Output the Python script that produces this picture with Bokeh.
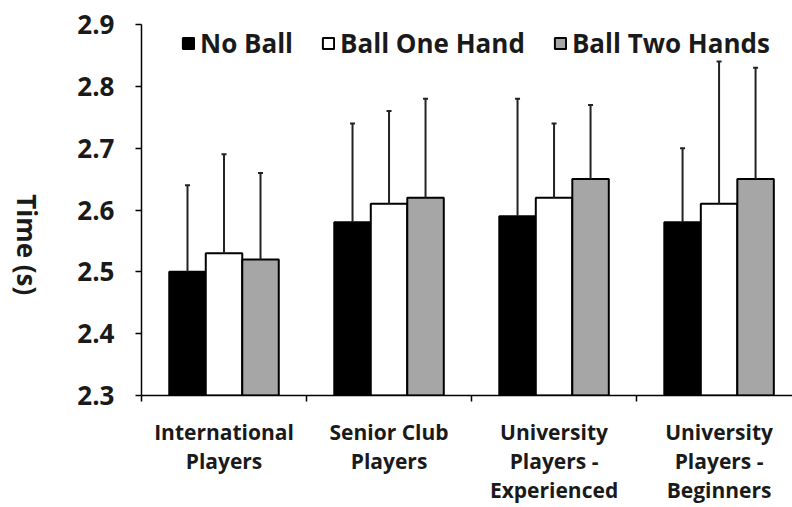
import math
from bokeh.plotting import figure
from bokeh.layouts import row
from bokeh.models import (ColumnDataSource, FixedTicker, Legend, LegendItem,
                          Whisker, TeeHead, Range1d)
from bokeh.core.properties import value
from bokeh.embed import file_html
from bokeh.resources import INLINE

groups = ["International\nPlayers", "Senior Club\nPlayers",
          "University\nPlayers -\nExperienced", "University\nPlayers -\nBeginners"]
series = ["No Ball", "Ball One Hand", "Ball Two Hands"]
no_ball = [2.50, 2.58, 2.59, 2.58]
one_hand = [2.53, 2.61, 2.62, 2.61]
two_hands = [2.52, 2.62, 2.65, 2.65]
no_ball_upper = [2.64, 2.74, 2.78, 2.70]
one_hand_upper = [2.69, 2.76, 2.74, 2.84]
two_hands_upper = [2.66, 2.78, 2.77, 2.83]
y_ticks = [2.3, 2.4, 2.5, 2.6, 2.7, 2.8, 2.9]
y_title = "Time (s)"
colors = ["#000000", "#ffffff", "#a6a6a6"]

FONT = "Open Sans"

# narrow panel holding the y-axis title (reads top to bottom)
t = figure(width=60, height=507, output_backend="svg", toolbar_location=None,
           x_range=Range1d(0, 60), y_range=Range1d(0, 507),
           x_axis_location=None, y_axis_location=None,
           min_border=0, min_border_left=0, min_border_right=0,
           min_border_top=0, min_border_bottom=0)
t.grid.visible = False
t.outline_line_color = None
t.text(x=[26], y=[206], text=[y_title], angle=-math.pi / 2,
       text_align="center", text_baseline="middle",
       text_font=value(FONT), text_font_style="bold", text_font_size="26px",
       text_color="#1a1a1a")

p = figure(width=732, height=507, output_backend="svg", toolbar_location=None,
           x_range=Range1d(0, 3.945), y_range=Range1d(2.3, 2.9),
           min_border_left=81, min_border_right=0, min_border_top=24,
           min_border_bottom=109)
p.outline_line_color = None
p.xgrid.visible = False
p.ygrid.visible = False
p.background_fill_color = "white"
p.border_fill_color = "white"

bw = 0.2212
centers = [i + 0.5 for i in range(len(groups))]
vals = [no_ball, one_hand, two_hands]
uppers = [no_ball_upper, one_hand_upper, two_hands_upper]
renderers = []
for k, (name, v, up, c) in enumerate(zip(series, vals, uppers, colors)):
    xs = [cx + (k - 1) * bw for cx in centers]
    src = ColumnDataSource(dict(x=xs, top=v, upper=up))
    r = p.vbar(x="x", top="top", bottom=2.3, width=bw, source=src,
               fill_color=c, line_color="black", line_width=2)
    renderers.append(r)
    w = Whisker(source=src, base="x", lower="top", upper="upper",
                line_color="#222222", line_width=2,
                upper_head=TeeHead(size=5, line_color="#222222", line_width=2),
                lower_head=None, level="overlay")
    p.add_layout(w)

# y axis
ya = p.yaxis[0]
ya.ticker = FixedTicker(ticks=y_ticks, minor_ticks=[])
ya.major_label_overrides = {tk: f"{tk:.1f}" for tk in y_ticks}
ya.major_tick_out = 6
ya.major_tick_in = 0
ya.major_tick_line_width = 1.5
ya.axis_line_width = 1.5
ya.axis_line_color = "black"
ya.major_tick_line_color = "black"
ya.major_label_text_font = FONT
ya.major_label_text_font_style = "bold"
ya.major_label_text_font_size = "26px"
ya.major_label_text_color = "#1a1a1a"
ya.major_label_standoff = 21

# x axis
xa = p.xaxis[0]
xa.ticker = FixedTicker(ticks=centers, minor_ticks=[0, 1, 2, 3, 4])
xa.major_label_overrides = {c: g for c, g in zip(centers, groups)}
xa.major_tick_line_color = None
xa.major_tick_out = 0
xa.major_tick_in = 0
xa.minor_tick_out = 6
xa.minor_tick_in = 0
xa.minor_tick_line_color = "black"
xa.minor_tick_line_width = 1.5
xa.axis_line_width = 1.5
xa.axis_line_color = "black"
xa.major_label_text_font = FONT
xa.major_label_text_font_style = "bold"
xa.major_label_text_font_size = "21px"
xa.major_label_text_color = "#1a1a1a"
xa.major_label_text_line_height = 1.05
xa.major_label_standoff = 16

legend = Legend(items=[LegendItem(label=s, renderers=[r]) for s, r in zip(series, renderers)],
                orientation="horizontal", location=(40, 334),
                glyph_width=14, glyph_height=14, label_standoff=5, spacing=28,
                padding=0, margin=0, border_line_color=None,
                background_fill_alpha=0,
                label_text_font=FONT, label_text_font_style="bold",
                label_text_font_size="26px", label_text_color="#1a1a1a")
p.add_layout(legend)

layout = row(t, p, spacing=0)
open("out.html", "w").write(file_html(layout, INLINE))
